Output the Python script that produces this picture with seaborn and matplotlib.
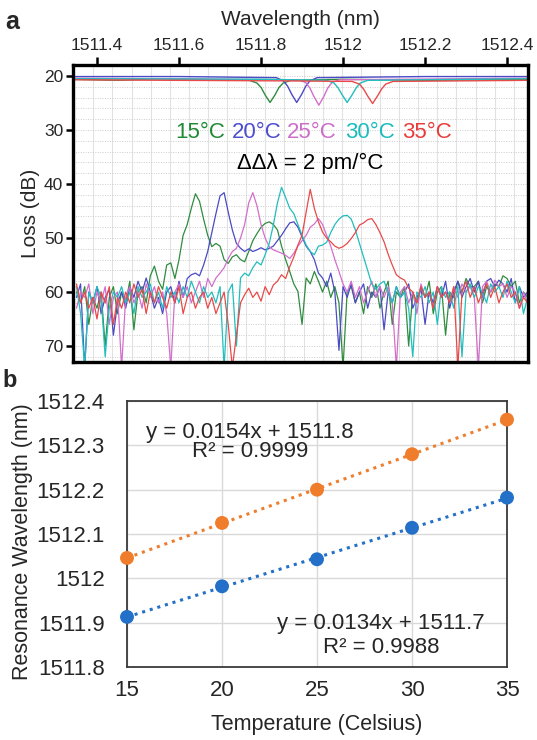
import numpy as np
import pandas as pd
import matplotlib
matplotlib.use("Agg")
import matplotlib.pyplot as plt
import seaborn as sns

sns.set_style("white")
plt.rcParams['font.family'] = ['Liberation Sans', 'DejaVu Sans']

# ---------------- data: panel a ----------------
temp_labels = ['15°C', '20°C', '25°C', '30°C', '35°C']
spec_colors = ['#2f8c40', '#4a4ac4', '#d36fcb', '#22bdbd', '#e84a4a']
text_colors = ['#1f8a34', '#4d4dd0', '#cc6ec8', '#1cbcbc', '#e83c3c']

wl_start = 1511.35   # drop-port spectra sampled every 0.01 nm
wl_step = 0.01

drop_15 = [60, 62, 59, 66, 61, 63, 60, 70, 61, 59,
           64, 60, 62, 58, 67, 60, 59, 62, 57, 55.2,
           58, 59.5, 55, 54.6, 57.5, 54, 49.5, 47.5, 44.5, 41.8,
           43.2, 46.5, 49.5, 51.6, 51, 51.5, 54, 54.7, 53.5, 53.1,
           54, 54.4, 52.5, 50.5, 49.2, 48, 47.3, 47, 47.5, 48.5,
           51.5, 54, 56.2, 58.5, 59.9, 66, 57.4, 58.5, 56.2, 58,
           60, 58, 61, 59, 62, 74, 60, 59, 62, 60,
           64, 59, 61, 58.5, 63, 60, 58, 66, 60, 61,
           59, 70, 60, 62, 59, 61, 58, 64, 60, 59,
           68, 60, 61, 58, 60, 57.5, 59, 59, 58, 62,
           59, 60, 58.5, 59, 57, 57.5, 59, 58, 62, 60, 61]
drop_20 = [61, 58.5, 74, 60, 62, 59, 64, 61, 59.5, 68,
           62, 60, 63, 59, 61, 58, 60, 57.4, 60, 63,
           61, 64, 60, 59, 62, 58, 61, 57.5, 56.8, 56.5,
           57, 55, 52.5, 49, 45.5, 42.2, 41.6, 45.2, 48.5, 51,
           51.9, 52.5, 52, 52.5, 52.2, 51.8, 52.2, 51.9, 51.5, 50.5,
           49.5, 48.3, 47.2, 47, 48, 49.8, 51.5, 52.5, 54, 56.5,
           57.4, 59, 56.5, 60, 70.8, 59, 61, 58.5, 62, 60,
           58.5, 63, 60, 61, 59, 67, 60, 62, 59, 61,
           60, 58.5, 63, 61, 59.5, 66, 60, 62, 59, 61,
           58, 63, 60, 58, 61, 59, 57.5, 60, 58, 61,
           58, 57.5, 59, 57.8, 58.5, 60, 57.5, 62, 59, 61, 60]
drop_25 = [63, 60, 61, 58.5, 64, 60, 62, 59, 66, 61,
           60, 74, 61, 59, 62, 60, 63, 58.5, 61, 59,
           62, 60, 64, 74, 60, 58.5, 61, 59, 62, 60,
           58, 61, 57.5, 59, 57.4, 56.5, 55.5, 53.8, 52.5, 51.9,
           50, 47.5, 43.5, 41.6, 44, 47.5, 50, 51.6, 52.2, 52.5,
           52.8, 53.2, 53.8, 52.8, 51.5, 50.5, 49.5, 48, 47.4, 46.4,
           47.5, 49.5, 51.5, 54, 56.2, 58.5, 60, 58, 61, 59,
           62, 60, 58, 61, 59, 61, 59, 62, 74, 60,
           59, 62, 60, 64, 58.5, 61, 60, 63, 59, 61,
           60, 62, 59, 61, 58.5, 60, 59, 61, 74, 59,
           58, 60, 57.8, 59, 58.5, 61, 59, 60, 63, 60, 62]
drop_30 = [59, 64, 74, 60, 62, 59, 61, 72, 63, 60,
           61, 59, 62, 60, 64, 59, 61, 60, 58.5, 62,
           60, 63, 59, 61, 60, 62, 59, 61, 58, 60,
           62, 59, 61, 60, 62, 59, 74, 60, 58.5, 70,
           57.4, 56.5, 57, 55.5, 54.4, 55, 53.1, 51, 47.6, 43.5,
           40.6, 42.5, 44.5, 45.5, 47.5, 49.5, 51.3, 52.5, 53.1, 51.5,
           51.3, 50.8, 49, 47.5, 46.5, 45.9, 45.8, 46.5, 48.5, 51,
           53.5, 56, 58.5, 59.5, 58.5, 58, 60, 62, 59, 61,
           60, 63, 72, 60, 61, 59, 62, 60, 66, 59,
           61, 60, 63, 59, 72, 60, 58.5, 61, 59, 60,
           62, 58.5, 60, 59, 61, 58, 60, 62, 59, 64, 61]
drop_35 = [58.5, 62, 60, 63, 61, 65, 60, 62, 59, 66,
           61, 63, 60, 62, 58.5, 61, 59.5, 64, 60, 62,
           59, 61, 63, 60, 62, 59, 64, 61, 60, 63,
           61, 60, 63, 61, 64, 62, 60, 66, 74, 68,
           62, 60.5, 59.3, 61, 60, 61.7, 59, 60.5, 58.7, 58,
           56.8, 57.5, 55.3, 53.5, 51.3, 49.5, 45.2, 41, 44.5, 47,
           48.9, 50, 50.7, 51.5, 51.9, 51.6, 51, 50.1, 49, 47.6,
           47.2, 46.6, 46.4, 47.5, 49, 50.7, 53, 55, 56.8, 57.4,
           57.8, 59.3, 60, 62, 59, 61, 60, 63, 59, 61,
           60, 62, 59, 74, 60, 58, 61, 59, 62, 60,
           58.5, 61, 59, 62, 60, 58.5, 61, 60, 63, 61, 62]
drops = [drop_15, drop_20, drop_25, drop_30, drop_35]

thru_wl_15 = [1511.34, 1511.45, 1511.55, 1511.70, 1511.772, 1511.79, 1511.80, 1511.81, 1511.822, 1511.834, 1511.844, 1511.854, 1511.872, 1512.0, 1512.2, 1512.45]
thru_db_15 = [20.6, 20.8, 20.5, 20.7, 20.8, 21.3, 22.1, 23.5, 24.9, 23.5, 22.1, 21.3, 20.8, 20.6, 20.8, 20.6]
thru_wl_20 = [1511.34, 1511.60, 1511.837, 1511.855, 1511.865, 1511.875, 1511.887, 1511.899, 1511.909, 1511.919, 1511.937, 1512.20, 1512.45]
thru_db_20 = [20.1, 20.1, 20.3, 20.9, 21.9, 23.4, 24.9, 23.4, 21.9, 20.9, 20.3, 20.1, 20.1]
thru_wl_25 = [1511.34, 1511.70, 1511.891, 1511.909, 1511.919, 1511.929, 1511.941, 1511.953, 1511.963, 1511.973, 1511.991, 1512.30, 1512.45]
thru_db_25 = [20.4, 20.6, 20.7, 21.2, 22.2, 23.8, 25.4, 23.8, 22.2, 21.2, 20.7, 20.5, 20.4]
thru_wl_30 = [1511.34, 1511.80, 1511.960, 1511.978, 1511.988, 1511.998, 1512.010, 1512.022, 1512.032, 1512.042, 1512.060, 1512.45]
thru_db_30 = [20.5, 20.6, 20.8, 21.3, 22.2, 23.5, 24.9, 23.5, 22.2, 21.3, 20.8, 20.5]
thru_wl_35 = [1511.34, 1511.85, 1512.022, 1512.040, 1512.050, 1512.060, 1512.072, 1512.084, 1512.094, 1512.104, 1512.122, 1512.45]
thru_db_35 = [20.7, 20.9, 21.0, 21.5, 22.4, 23.7, 25.1, 23.7, 22.4, 21.5, 21.0, 20.8]
thru_wl = [thru_wl_15, thru_wl_20, thru_wl_25, thru_wl_30, thru_wl_35]
thru_db = [thru_db_15, thru_db_20, thru_db_25, thru_db_30, thru_db_35]

top_ticks = [1511.4, 1511.6, 1511.8, 1512.0, 1512.2, 1512.4]
top_tick_labels = ['1511.4', '1511.6', '1511.8', '1512', '1512.2', '1512.4']
loss_ticks = [20, 30, 40, 50, 60, 70]

# ---------------- data: panel b ----------------
temps = [15, 20, 25, 30, 35]
res_orange = [1512.046, 1512.125, 1512.200, 1512.280, 1512.358]
res_blue = [1511.913, 1511.982, 1512.043, 1512.114, 1512.182]
res_ticks = [1511.8, 1511.9, 1512.0, 1512.1, 1512.2, 1512.3, 1512.4]
res_tick_labels = ['1511.8', '1511.9', '1512', '1512.1', '1512.2', '1512.3', '1512.4']
temp_ticks = [15, 20, 25, 30, 35]
eq_orange = ['y = 0.0154x + 1511.8', 'R² = 0.9999']
eq_blue = ['y = 0.0134x + 1511.7', 'R² = 0.9988']
orange = '#ef7d2c'
blue = '#2270c8'

# ---------------- figure ----------------
W, H = 537, 740
fig = plt.figure(figsize=(W / 100, H / 100), dpi=100)

def fr(x0, y0, x1, y1):
    return [x0 / W, 1 - y1 / H, (x1 - x0) / W, (y1 - y0) / H]

# ----- panel a -----
ax = fig.add_axes(fr(73, 65, 528, 362))
wl_grid = wl_start + wl_step * np.arange(len(drop_15))
rows = []
for lab, d in zip(temp_labels, drops):
    rows.append(pd.DataFrame({'wl': wl_grid, 'loss': d, 'curve': 'drop ' + lab}))
for lab, w, d in zip(temp_labels, thru_wl, thru_db):
    rows.append(pd.DataFrame({'wl': w, 'loss': d, 'curve': 'thru ' + lab}))
df = pd.concat(rows, ignore_index=True)

for lab, col in zip(temp_labels, spec_colors):
    sub = df[df['curve'] == 'drop ' + lab]
    sns.lineplot(data=sub, x='wl', y='loss', ax=ax, color=col, lw=0.9,
                 estimator=None, sort=False, legend=False)
for lab, col in zip(temp_labels, spec_colors):
    sub = df[df['curve'] == 'thru ' + lab]
    sns.lineplot(data=sub, x='wl', y='loss', ax=ax, color=col, lw=1.0,
                 estimator=None, sort=False, legend=False)

ax.set_xlim(1511.3415, 1512.451)
ax.set_ylim(72.96, 17.96)
ax.xaxis.tick_top()
ax.xaxis.set_label_position('top')
ax.set_xticks(top_ticks)
ax.set_xticklabels(top_tick_labels)
ax.set_yticks(loss_ticks)
ax.set_yticklabels([str(v) for v in loss_ticks])
ax.set_xticks(np.arange(1511.391 - 0.0466, 1512.46, 0.0466), minor=True)
ax.set_yticks(np.arange(18, 74, 2), minor=True)
ax.xaxis.remove_overlapping_locs = False
ax.yaxis.remove_overlapping_locs = False
ax.grid(False)
ax.grid(which='minor', axis='x', color='#e2e2e2', lw=0.8)
ax.grid(which='minor', axis='y', color='#cccccc', lw=0.7, ls=(0, (1, 1.5)))
ax.set_axisbelow(True)
ax.tick_params(axis='x', which='major', top=True, bottom=False, labeltop=True,
               labelbottom=False, direction='out', length=6, width=1.8,
               labelsize=12.5, pad=3, color='black')
ax.tick_params(axis='y', which='major', left=True, direction='out', length=5,
               width=1.8, labelsize=12.5, pad=2, color='black')
ax.tick_params(which='minor', length=0)
for s in ax.spines.values():
    s.set_linewidth(2.4)
    s.set_color('black')
ax.set_xlabel('Wavelength (nm)', fontsize=15, labelpad=9)
ax.set_ylabel('Loss (dB)', fontsize=15)
ax.yaxis.set_label_coords((40 - 73) / 455, 0.5)

label_x = [1511.651, 1511.790, 1511.924, 1512.066, 1512.205]
for lab, xx, col in zip(temp_labels, label_x, text_colors):
    ax.text(xx, 30.4, lab, color=col, fontsize=16, ha='center', va='center')
ax.text(1511.920, 36.1, 'ΔΔλ = 2 pm/°C', color='black', fontsize=16,
        ha='center', va='center')

fig.text(12 / W, 1 - 22 / H, 'a', fontsize=18, fontweight='bold',
         ha='center', va='center')

# ----- panel b -----
ax2 = fig.add_axes(fr(127, 401, 507, 667))
sns.regplot(x=temps, y=res_orange, ax=ax2, scatter=False, ci=None,
            color=orange, line_kws=dict(ls=(0, (1, 1.6)), lw=2.2))
sns.regplot(x=temps, y=res_blue, ax=ax2, scatter=False, ci=None,
            color=blue, line_kws=dict(ls=(0, (1, 1.6)), lw=2.2))
sns.scatterplot(x=temps, y=res_orange, ax=ax2, color=orange, s=100,
                edgecolor='none', zorder=4, clip_on=False, legend=False)
sns.scatterplot(x=temps, y=res_blue, ax=ax2, color=blue, s=100,
                edgecolor='none', zorder=4, clip_on=False, legend=False)
ax2.set_xlim(15, 35)
ax2.set_ylim(1511.8, 1512.4)
ax2.set_xticks(temp_ticks)
ax2.set_xticklabels([str(t) for t in temp_ticks])
ax2.set_yticks(res_ticks)
ax2.set_yticklabels(res_tick_labels)
ax2.grid(True, color='#d9d9d9', lw=1.0)
ax2.set_axisbelow(True)
ax2.tick_params(axis='both', length=0, labelsize=16)
ax2.tick_params(axis='x', pad=9)
ax2.tick_params(axis='y', pad=16)
for s in ax2.spines.values():
    s.set_linewidth(1.3)
    s.set_color('#3a3a3a')
ax2.set_xlabel('Temperature (Celsius)', fontsize=15.5, labelpad=10)
ax2.set_ylabel('Resonance Wavelength (nm)', fontsize=15.5)
ax2.yaxis.set_label_coords((33 - 127) / 380, (667 - 542) / 266)

ax2.text(21.47, 1512.330, eq_orange[0], fontsize=16, ha='center', va='center')
ax2.text(21.47, 1512.285, eq_orange[1], fontsize=16, ha='center', va='center')
ax2.text(28.37, 1511.899, eq_blue[0], fontsize=16, ha='center', va='center')
ax2.text(28.37, 1511.843, eq_blue[1], fontsize=16, ha='center', va='center')

fig.text(10 / W, 1 - 381 / H, 'b', fontsize=17, fontweight='bold',
         ha='center', va='center')

fig.savefig('out.png', dpi=100)
